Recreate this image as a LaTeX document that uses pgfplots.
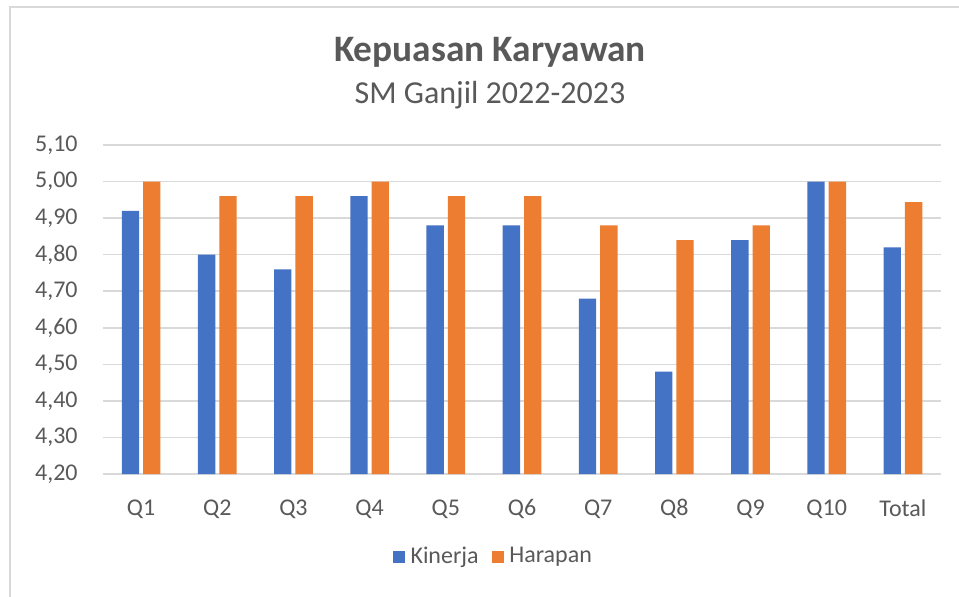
\documentclass[border=0pt]{standalone}
\usepackage{pgfplots}
\pgfplotsset{compat=1.18}
\usepackage{fontspec}
\setmainfont{Carlito}
\definecolor{kin}{HTML}{4472C4}
\definecolor{har}{HTML}{ED7D31}
\definecolor{gridc}{HTML}{D9D9D9}
\definecolor{txt}{HTML}{595959}
\begin{document}
\begin{tikzpicture}
\useasboundingbox (-38.625pt,-45.75pt) rectangle (321pt,177.75pt);
\draw[gridc, line width=0.75pt] (-34.9pt,-60pt) -- (-34.9pt,175.2pt) -- (340pt,175.2pt);
\node[font=\bfseries\fontsize{14}{16}\selectfont, text=txt] at (145.1pt,158.3pt) {Kepuasan Karyawan};
\node[font=\fontsize{12}{14}\selectfont, text=txt] at (145.1pt,142.1pt) {SM Ganjil 2022-2023};
\begin{axis}[
  at={(0,0)}, anchor=south west, scale only axis,
  width=314.25pt, height=123.4pt,
  ybar, bar width=6.5pt,
  xmin=-0.5, xmax=10.5, ymin=4.2, ymax=5.1,
  xtick={0,1,2,3,4,5,6,7,8,9,10},
  xticklabels={Q1,Q2,Q3,Q4,Q5,Q6,Q7,Q8,Q9,Q10,Total},
  ytick={4.2,4.3,4.4,4.5,4.6,4.7,4.8,4.9,5.0,5.1},
  ymajorgrids, grid style={gridc, line width=0.6pt},
  axis line style={draw=none},
  major tick length=0pt,
  tick label style={font=\fontsize{9}{11}\selectfont, text=txt},
  /pgf/number format/.cd, fixed, fixed zerofill, precision=2, use comma, assume math mode=true,
  /pgfplots/.cd,
  yticklabel style={xshift=-6pt},
  xticklabel style={yshift=-6pt},
  legend columns=2,
  legend style={at={(0.468,-0.252)}, anchor=center, draw=none, fill=none,
    font=\fontsize{9}{11}\selectfont, text=txt,
    /tikz/every even column/.append style={column sep=3pt},
    legend cell align=left},
  legend image code/.code={\fill[#1] (0pt,-2.25pt) rectangle (4.5pt,2.25pt);},
]
\addplot[fill=kin, draw=none, bar shift=-4pt] coordinates {
(0,4.92) (1,4.80) (2,4.76) (3,4.96) (4,4.88) (5,4.88) (6,4.68) (7,4.48) (8,4.84) (9,5.00) (10,4.82)};
\addplot[fill=har, draw=none, bar shift=4pt] coordinates {
(0,5.00) (1,4.96) (2,4.96) (3,5.00) (4,4.96) (5,4.96) (6,4.88) (7,4.84) (8,4.88) (9,5.00) (10,4.944)};
\legend{Kinerja,Harapan}
\end{axis}
\end{tikzpicture}
\end{document}
